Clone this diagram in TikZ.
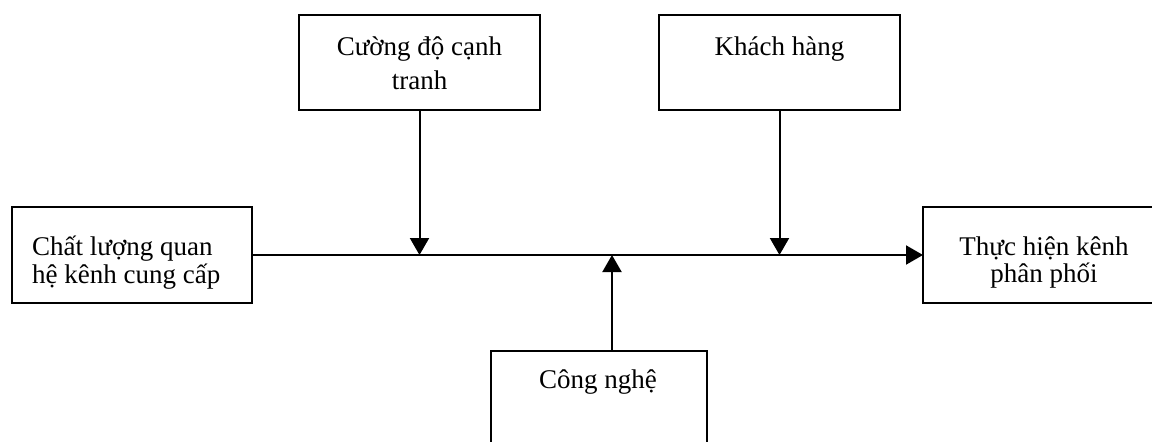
\documentclass[tikz,border=0pt]{standalone}
\usepackage{fontspec}
\setmainfont{Liberation Serif}
\usetikzlibrary{arrows.meta}
\begin{document}
\begin{tikzpicture}[x=1pt,y=-1pt,
  box/.style={draw, line width=2.2pt, inner sep=0pt, outer sep=0pt},
  txt/.style={anchor=base, inner sep=0pt, font=\fontsize{27}{28}\selectfont},
  link/.style={line width=2pt, -{Triangle[width=19pt,length=17pt]}}]
  \useasboundingbox (0,0) rectangle (1152,442);
  \clip (0,0) rectangle (1152,442);

  % factor boxes
  \node[box, minimum width=241pt, minimum height=95pt] (b1) at (419.5,62.5) {};
  \node[box, minimum width=241pt, minimum height=95pt] (b2) at (779.5,62.5) {};
  \node[box, minimum width=240pt, minimum height=96pt] (b3) at (132,255) {};
  \node[box, minimum width=237pt, minimum height=96pt] (b4) at (1041.5,255) {};
  \node[box, minimum width=216pt, minimum height=109pt] (b5) at (599,405.5) {};

  % box texts
  \node[txt] (t1a) at (419.5,55) {Cường độ cạnh};
  \node[txt] (t1b) at (419.5,89) {tranh};
  \node[txt] (t2) at (779.5,55) {Khách hàng};
  \node[txt, anchor=base west] (t3a) at (32,255) {Chất lượng quan};
  \node[txt, anchor=base west] (t3b) at (32,283) {hệ kênh cung cấp};
  \node[txt] (t4a) at (1044,255) {Thực hiện kênh};
  \node[txt] (t4b) at (1044,282) {phân phối};
  \node[txt] (t5) at (598,388) {Công nghệ};

  % junctions on the main line
  \coordinate (j1) at (b1.south |- b3.east);
  \coordinate (j2) at (b2.south |- b3.east);
  \coordinate (j3) at (612,255);

  % connectors
  \draw[link] (b3.east) -- (b4.west);
  \draw[link] (b1.south) -- (j1);
  \draw[link] (b2.south) -- (j2);
  \draw[link] (b5.north -| j3) -- (j3);
\end{tikzpicture}
\end{document}
